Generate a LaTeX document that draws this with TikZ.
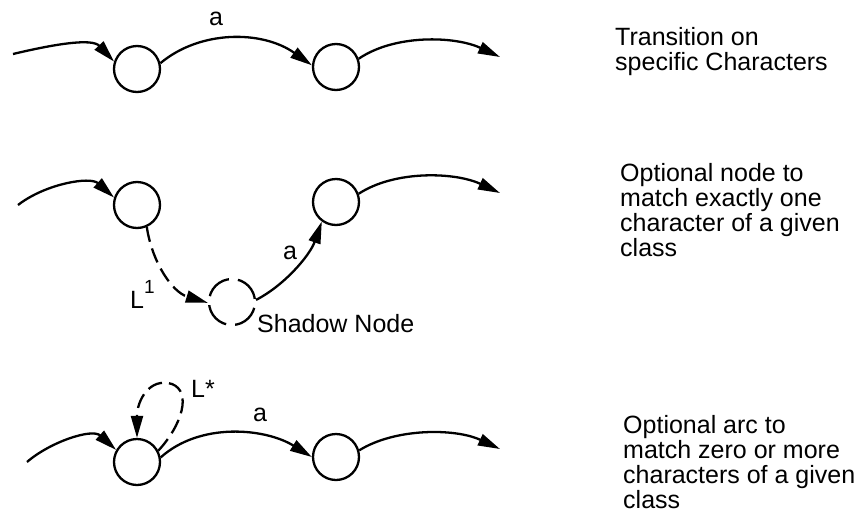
\documentclass[tikz,border=0pt]{standalone}
\usepackage{fontspec}
\setmainfont{Liberation Sans}
\usetikzlibrary{arrows.meta}
\tikzset{
  stnode/.style={circle, draw, line width=2.3pt, minimum size=46pt, inner sep=0pt},
  shadownode/.style={stnode, dash pattern=on 27pt off 9.1pt, dash phase=33pt},
  arc/.style={line width=2.3pt, -{Triangle[length=22pt,width=12pt]}},
  darc/.style={arc, dash pattern=on 15pt off 7pt},
  lbl/.style={font=\fontsize{25}{25}\selectfont, inner sep=0pt},
  desc/.style={lbl, align=left, anchor=base west}
}
\begin{document}
\begin{tikzpicture}[x=1pt, y=-1pt]
\useasboundingbox (0,0) rectangle (862,517);
  % Row 1: transition on a character
  \node[stnode] (q11) at (137,69) {};
  \node[stnode] (q12) at (336,67) {};
  \coordinate (in1) at (13,54);
  \coordinate (out1) at (500,57);
  \draw[arc] (in1) .. controls (55,44) and (92,38) .. (q11.162);
  \draw[arc] (q11.14) .. controls (200,30) and (262,30) .. (q12.176);
  \draw[arc] (q12.20) .. controls (395,34) and (455,36) .. (out1);
  \node[lbl] (a1) at (216,19) {a};
  \node[desc] (d1) at (615,70) {Transition on\\specific Characters};
  % Row 2: optional node, with shadow node
  \node[stnode] (q21) at (137,205) {};
  \node[stnode] (q22) at (336,202) {};
  \node[shadownode] (sh) at (232,302) {};
  \coordinate (in2) at (18,205);
  \coordinate (out2) at (500,193);
  \draw[arc] (in2) .. controls (45,184) and (90,176) .. (q21.162);
  \draw[darc] (q21.294) .. controls (152,262) and (172,292) .. (sh.182);
  \draw[arc] (sh.5) .. controls (285,285) and (310,255) .. (q22.234);
  \draw[arc] (q22.20) .. controls (395,170) and (455,172) .. (out2);
  \node[lbl] (a2) at (290,253) {a};
  \node[lbl, anchor=base west] (l1) at (130,308) {L\raisebox{15pt}{\fontsize{19}{19}\selectfont 1}};
  \node[lbl, anchor=base west] (shl) at (257,332) {Shadow Node};
  \node[desc] (d2) at (620,256) {Optional node to\\match exactly one\\character of a given\\class};
  % Row 3: optional arc, loop on the first node
  \node[stnode] (q31) at (137,462) {};
  \node[stnode] (q32) at (336,457) {};
  \coordinate (in3) at (27,462);
  \coordinate (out3) at (500,449);
  \draw[arc] (in3) .. controls (50,442) and (92,428) .. (q31.150);
  \draw[darc] (q31.28) .. controls (182,425) and (192,392) .. (172,384)
    .. controls (150,377) and (137,400) .. (q31.90);
  \draw[arc] (q31.11) .. controls (200,422) and (265,428) .. (q32.180);
  \draw[arc] (q32.16) .. controls (395,428) and (455,428) .. (out3);
  \node[lbl] (a3) at (260,415) {a};
  \node[lbl, anchor=base west] (ls) at (191,397) {L*};
  \node[desc] (d3) at (623,508) {Optional arc to\\match zero or more\\characters of a given\\class};
\end{tikzpicture}
\end{document}
